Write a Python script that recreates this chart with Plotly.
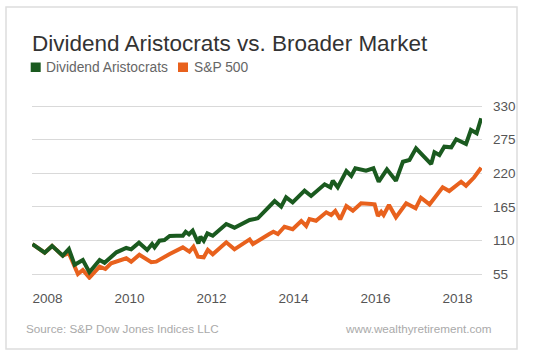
import plotly.graph_objects as go

# ---- data ----
aristo_x = [2007.63, 2007.93, 2008.11, 2008.37, 2008.52, 2008.66, 2008.86, 2009.02, 2009.27, 2009.39,
            2009.68, 2009.92, 2010.04, 2010.23, 2010.43, 2010.55, 2010.61, 2010.73, 2010.85, 2010.98,
            2011.14, 2011.30, 2011.37, 2011.45, 2011.54, 2011.63, 2011.68, 2011.73, 2011.81, 2011.90,
            2012.03, 2012.36, 2012.56, 2012.93, 2013.13, 2013.54, 2013.70, 2013.82, 2013.98, 2014.27,
            2014.43, 2014.76, 2014.90, 2014.96, 2015.08, 2015.29, 2015.41, 2015.51, 2015.77, 2015.95,
            2016.08, 2016.28, 2016.50, 2016.67, 2016.83, 2016.99, 2017.15, 2017.36, 2017.44, 2017.56,
            2017.68, 2017.85, 2017.97, 2018.21, 2018.33, 2018.47, 2018.58]
aristo_y = [104, 90, 101, 85, 96, 70, 78, 58, 78, 73.5,
            90.5, 97.6, 95.4, 106.3, 94.3, 104.1, 98.6, 109.5, 110.6, 117.2,
            117.7, 117.7, 124.2, 120, 126, 113.4, 105.2, 116.1, 109.5, 121.6,
            117.7, 136.8, 130.8, 143.4, 146.2, 174.5, 165.2, 180.5, 172.3, 191.4,
            182.7, 201.8, 196.9, 207.7, 196.9, 223.6, 215.4, 228, 224.1, 228,
            206.1, 226.4, 207.7, 238.8, 241.6, 260.7, 249.8, 235, 254.2, 249.8,
            263.4, 262.4, 275.5, 267.8, 290.7, 285.3, 309.9]

sp_x = [2007.63, 2007.93, 2008.11, 2008.37, 2008.52, 2008.74, 2008.86, 2009.02, 2009.27, 2009.41,
        2009.55, 2009.92, 2010.04, 2010.24, 2010.53, 2010.65, 2010.98, 2011.30, 2011.46, 2011.56,
        2011.67, 2011.81, 2011.91, 2012.03, 2012.36, 2012.56, 2012.93, 2013.01, 2013.41, 2013.51,
        2013.62, 2013.78, 2013.98, 2014.19, 2014.31, 2014.39, 2014.55, 2014.80, 2014.92, 2015.02,
        2015.14, 2015.29, 2015.45, 2015.65, 2015.90, 2015.98, 2016.06, 2016.14, 2016.20, 2016.33,
        2016.50, 2016.75, 2016.98, 2017.11, 2017.32, 2017.64, 2017.80, 2018.09, 2018.21, 2018.41,
        2018.58]
sp_y = [104, 90, 101, 85, 89, 55, 61.5, 49, 67, 63.2,
        72.5, 80.7, 75.2, 86.6, 74.2, 75.2, 87.7, 98.6, 91.5, 99.7,
        83.3, 82.3, 94.3, 87.2, 106.9, 95.4, 111.7, 104.1, 120.5, 124.2,
        120.5, 132.4, 128.2, 141.8, 133.6, 145, 142.2, 156, 151.6, 158.1,
        144.5, 166.3, 158.6, 170.7, 169.6, 169, 150, 157, 151.6, 168,
        147.8, 170.7, 162.5, 179.9, 169, 196.9, 190.9, 206.1, 199.5, 213.3,
        229]

x_ticks = [2008, 2010, 2012, 2014, 2016, 2018]
y_ticks = [55, 110, 165, 220, 275, 330]

GREEN = "#1a5a1f"
ORANGE = "#e8611d"
FONT = "Liberation Sans, Arial, sans-serif"

fig = go.Figure()
fig.add_trace(go.Scatter(x=sp_x, y=sp_y, mode="lines", name="S&P 500",
                         line=dict(color=ORANGE, width=4), showlegend=False))
fig.add_trace(go.Scatter(x=aristo_x, y=aristo_y, mode="lines", name="Dividend Aristocrats",
                         line=dict(color=GREEN, width=4), showlegend=False))

# plot area: x 32..482 px, y 100..280 px
L, R, T, B = 32, 482, 100, 280
W, H = 550, 357
def px(xp):
    return (xp - L) / (R - L)
def py(yp):
    return (B - yp) / (B - T)

fig.update_layout(
    width=W, height=H,
    margin=dict(l=L, r=W - R, t=T, b=H - B),
    paper_bgcolor="white", plot_bgcolor="white",
    font=dict(family=FONT, color="#555555"),
    showlegend=False,
    xaxis=dict(range=[2007.62, 2018.6], tickvals=x_ticks, ticktext=[str(v) for v in x_ticks],
               showgrid=False, zeroline=False, showline=False, ticks="",
               tickfont=dict(size=13.5, color="#555555"), ticklabelstandoff=8),
    yaxis=dict(range=[45.18, 339.82], tickvals=y_ticks, side="right",
               showgrid=True, gridcolor="#d9d9d9", gridwidth=1, zeroline=False,
               showline=False, ticks="", tickfont=dict(size=13.5, color="#555555"),
               ticklabelstandoff=10),
)

# outer frame
fig.add_shape(type="rect", xref="paper", yref="paper",
              x0=px(6), x1=px(517), y0=py(349), y1=py(7),
              line=dict(color="#dddddd", width=1.5), layer="below")

# title
fig.add_annotation(text="Dividend Aristocrats vs. Broader Market", xref="paper", yref="paper",
                   x=px(30), y=py(43), xanchor="left", yanchor="middle", showarrow=False,
                   font=dict(size=22.5, color="#333333", family=FONT))

# legend (squares + labels)
fig.add_shape(type="rect", xref="paper", yref="paper", x0=px(30.7), x1=px(40.7),
              y0=py(72), y1=py(62.5), fillcolor=GREEN, line=dict(width=0))
fig.add_annotation(text="Dividend Aristocrats", xref="paper", yref="paper",
                   x=px(44), y=py(67), xanchor="left", yanchor="middle", showarrow=False,
                   font=dict(size=13.8, color="#666666", family=FONT))
fig.add_shape(type="rect", xref="paper", yref="paper", x0=px(178), x1=px(188),
              y0=py(72), y1=py(62.5), fillcolor=ORANGE, line=dict(width=0))
fig.add_annotation(text="S&P 500", xref="paper", yref="paper",
                   x=px(191.5), y=py(67), xanchor="left", yanchor="middle", showarrow=False,
                   font=dict(size=13.8, color="#666666", family=FONT))

# footer
fig.add_annotation(text="Source: S&P Dow Jones Indices LLC", xref="paper", yref="paper",
                   x=px(23.5), y=py(328), xanchor="left", yanchor="middle", showarrow=False,
                   font=dict(size=11.7, color="#aaaaaa", family=FONT))
fig.add_annotation(text="www.wealthyretirement.com", xref="paper", yref="paper",
                   x=px(494), y=py(328), xanchor="right", yanchor="middle", showarrow=False,
                   font=dict(size=11.7, color="#aaaaaa", family=FONT))

fig.write_html("out.html", config={"displayModeBar": False},
               post_script="document.body.style.margin='0';document.body.style.padding='0';")
